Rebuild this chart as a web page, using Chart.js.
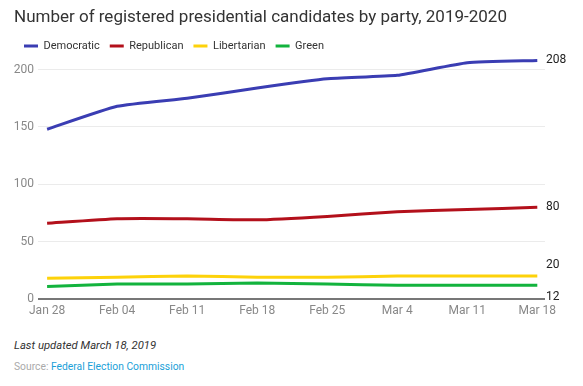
<!DOCTYPE html>
<html>
<head>
<meta charset="utf-8">
<script src="https://cdn.jsdelivr.net/npm/chart.js@4.4.1/dist/chart.umd.min.js"></script>
<style>
  html, body { margin: 0; padding: 0; background: #fff; }
  body { width: 583px; height: 386px; position: relative; overflow: hidden; font-family: Roboto, sans-serif; }
  #wrap { position: absolute; left: 0; top: 0; width: 583px; height: 330px; }
  .updated { position: absolute; left: 14px; top: 339px; font-size: 11.3px; font-style: italic; color: #333; }
  .source { position: absolute; left: 14px; top: 360px; font-size: 10.3px; color: #aaa; }
  .source span { color: #1a9fd8; }
</style>
</head>
<body>
<div id="wrap"><canvas id="chart" width="583" height="330"></canvas></div>
<div class="updated">Last updated March 18, 2019</div>
<div class="source">Source: <span>Federal Election Commission</span></div>
<script>
// Data
const dates = ['Jan 28', 'Feb 04', 'Feb 11', 'Feb 18', 'Feb 25', 'Mar 4', 'Mar 11', 'Mar 18'];
const democratic = [148, 168, 175, 184, 192, 195, 206, 208];
const republican = [66, 70, 70, 69, 72, 76, 78, 80];
const libertarian = [18, 19, 20, 19, 19, 20, 20, 20];
const green = [11, 13, 13, 14, 13, 12, 12, 12];
const yTicks = [0, 50, 100, 150, 200];

const toPoints = arr => arr.map((v, i) => ({ x: i, y: v }));

// Labels at the end of each line, pushed apart when they collide
const endLabels = {
    id: 'endLabels',
    afterDatasetsDraw(chart) {
        const ctx = chart.ctx;
        const items = chart.data.datasets.map((ds, i) => {
            const meta = chart.getDatasetMeta(i);
            const pt = meta.data[meta.data.length - 1];
            return { y: pt.y, text: String(ds.data[ds.data.length - 1].y) };
        }).sort((a, b) => a.y - b.y);
        const gap = 32;
        for (let i = 1; i < items.length; i++) {
            const prev = items[i - 1], cur = items[i];
            if (cur.y - prev.y < gap) {
                const mid = (cur.y + prev.y) / 2;
                prev.y = mid - gap / 2;
                cur.y = mid + gap / 2;
            }
        }
        ctx.save();
        ctx.font = '12px Roboto';
        ctx.fillStyle = '#222';
        ctx.textAlign = 'left';
        ctx.textBaseline = 'middle';
        items.forEach(it => ctx.fillText(it.text, chart.chartArea.right + 1, it.y));
        ctx.restore();
    }
};

// Trim the legend box so the plot starts where the reference does
const legendTrim = {
    id: 'legendTrim',
    beforeInit(chart) {
        const fit = chart.legend.fit;
        chart.legend.fit = function () {
            fit.bind(chart.legend)();
            this.height -= 9;
        };
    }
};

function draw() {
    new Chart(document.getElementById('chart'), {
        type: 'line',
        data: {
            datasets: [
                { label: 'Democratic', data: toPoints(democratic), borderColor: '#3a3db3', backgroundColor: '#3a3db3', borderWidth: 3 },
                { label: 'Republican', data: toPoints(republican), borderColor: '#b3101b', backgroundColor: '#b3101b', borderWidth: 3 },
                { label: 'Libertarian', data: toPoints(libertarian), borderColor: '#fdd20a', backgroundColor: '#fdd20a', borderWidth: 3 },
                { label: 'Green', data: toPoints(green), borderColor: '#12b33d', backgroundColor: '#12b33d', borderWidth: 3 }
            ]
        },
        options: {
            responsive: false,
            animation: false,
            layout: { padding: { left: 14, right: 38, top: 0, bottom: 9 } },
            elements: {
                line: { tension: 0.15 },
                point: { radius: 0 }
            },
            plugins: {
                title: {
                    display: true,
                    text: 'Number of registered presidential candidates by party, 2019-2020',
                    align: 'start',
                    color: '#333',
                    font: { family: 'Roboto', size: 17, weight: 'normal' },
                    padding: { top: 8, bottom: 2 }
                },
                legend: {
                    align: 'start',
                    labels: {
                        usePointStyle: true,
                        pointStyle: 'line',
                        pointStyleWidth: 14,
                        boxHeight: 11,
                        padding: 10,
                        color: '#333',
                        font: { family: 'Roboto', size: 11 }
                    }
                },
                tooltip: { enabled: false }
            },
            scales: {
                x: {
                    type: 'linear',
                    min: -0.13,
                    max: 7.11,
                    afterBuildTicks: axis => { axis.ticks = dates.map((d, i) => ({ value: i })); },
                    afterFit: axis => { axis.height = 22; },
                    grid: { display: false, drawTicks: false },
                    border: { display: false },
                    ticks: {
                        autoSkip: false,
                        maxRotation: 0,
                        padding: 5,
                        color: '#888',
                        font: { family: 'Roboto', size: 12 },
                        callback: v => dates[v]
                    }
                },
                y: {
                    min: 0,
                    max: 215,
                    afterBuildTicks: axis => { axis.ticks = yTicks.map(v => ({ value: v })); },
                    afterFit: axis => { axis.width = 24; },
                    border: { display: false },
                    grid: {
                        drawTicks: false,
                        color: c => c.tick && c.tick.value === 0 ? '#777' : '#ebebeb',
                        lineWidth: c => c.tick && c.tick.value === 0 ? 2 : 1
                    },
                    ticks: {
                        padding: 4,
                        color: '#888',
                        font: { family: 'Roboto', size: 12 }
                    }
                }
            }
        },
        plugins: [endLabels, legendTrim]
    });
}

document.fonts.load('12px Roboto').then(draw, draw);
</script>
</body>
</html>
